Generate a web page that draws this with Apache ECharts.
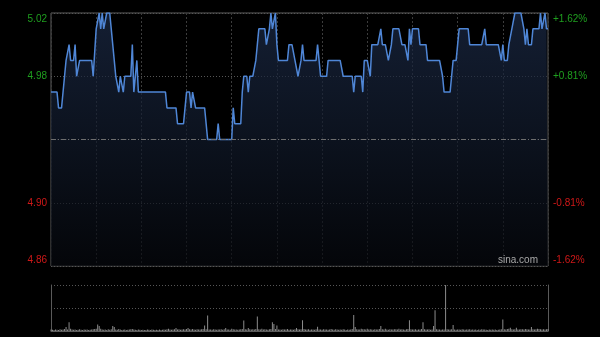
<!DOCTYPE html>
<html><head><meta charset="utf-8">
<script src="https://cdn.jsdelivr.net/npm/echarts@6/dist/echarts.min.js"></script>
<style>html,body{margin:0;padding:0;background:#000;}#c{width:600px;height:337px;}</style>
</head><body><div id="c"></div>
<script>
// previous close (base) price
const basePrice = 4.94;
// left tick labels (price) and right tick labels (percent)
const priceTicks = [4.86, 4.90, 4.94, 4.98, 5.02];
const pctTicks = ['-1.62%', '-0.81%', '', '+0.81%', '+1.62%'];

// one price per trading minute (330 minutes + open)
const price = [
4.97,4.97,4.97,4.97,4.97,4.96,4.96,4.96,4.96,4.98,
4.99,4.99,5.00,4.99,4.99,4.99,5.00,4.98,4.98,4.99,
4.99,4.99,4.99,4.99,4.99,4.99,4.99,4.99,4.98,4.98,
5.01,5.01,5.02,5.01,5.02,5.01,5.01,5.02,5.02,5.02,
5.01,5.00,4.99,4.98,4.98,4.97,4.98,4.98,4.97,4.98,
4.98,4.98,4.98,4.98,5.00,4.97,4.97,4.99,4.97,4.97,
4.97,4.97,4.97,4.97,4.97,4.97,4.97,4.97,4.97,4.97,
4.97,4.97,4.97,4.97,4.97,4.97,4.97,4.96,4.96,4.96,
4.96,4.96,4.96,4.96,4.95,4.95,4.95,4.95,4.95,4.96,
4.97,4.97,4.97,4.96,4.97,4.97,4.96,4.96,4.96,4.96,
4.96,4.96,4.96,4.95,4.94,4.94,4.94,4.94,4.94,4.94,
4.94,4.95,4.94,4.94,4.94,4.94,4.94,4.94,4.94,4.94,
4.94,4.96,4.95,4.95,4.95,4.95,4.95,4.97,4.98,4.98,
4.98,4.97,4.98,4.98,4.98,4.98,4.99,5.00,5.01,5.01,
5.01,5.01,5.01,5.00,5.00,5.01,5.02,5.01,5.01,5.02,
5.00,4.99,4.99,4.99,4.99,4.99,4.99,4.99,5.00,5.00,
5.00,5.00,4.99,4.99,4.98,4.98,4.99,5.00,4.99,4.99,
4.99,4.99,4.99,4.99,4.99,4.99,4.99,5.00,4.99,4.98,
4.98,4.98,4.98,4.98,4.99,4.99,4.99,4.99,4.99,4.99,
4.99,4.99,4.99,4.99,4.98,4.98,4.98,4.98,4.98,4.98,
4.98,4.97,4.98,4.98,4.98,4.98,4.98,4.97,4.99,4.99,
4.99,4.99,4.98,5.00,5.00,5.00,5.00,5.00,5.00,5.01,
5.00,5.00,5.00,5.00,4.99,4.99,5.00,5.01,5.01,5.01,
5.01,5.01,5.01,5.00,5.00,5.00,5.00,4.99,5.01,5.00,
5.01,5.01,5.01,5.01,5.01,5.00,5.00,5.00,5.00,5.00,
4.99,4.99,4.99,4.99,4.99,4.99,4.99,4.99,4.99,4.99,
4.98,4.97,4.97,4.97,4.97,4.97,4.98,4.99,4.99,4.99,
5.00,5.01,5.01,5.01,5.01,5.01,5.01,5.01,5.00,5.00,
5.00,5.00,5.00,5.00,5.00,5.00,5.00,5.00,5.01,5.00,
5.00,5.00,5.00,5.00,5.00,5.00,5.00,5.00,5.00,4.99,
5.00,4.99,4.99,4.99,5.00,5.00,5.01,5.01,5.02,5.02,
5.02,5.02,5.02,5.02,5.01,5.00,5.01,5.00,5.00,5.00,
5.01,5.01,5.01,5.01,5.01,5.02,5.01,5.01,5.02,5.01,
5.01
];

// volume per minute (relative units)
const volume = [
16,12,10,14,12,10,18,12,14,20,
40,15,90,22,14,12,16,10,12,18,
12,10,14,12,16,10,12,14,18,20,
22,67,50,24,16,12,14,10,18,12,
18,50,40,16,12,20,14,10,12,16,
10,12,14,18,20,16,12,10,14,12,
10,12,9,10,14,12,10,16,12,10,
12,10,14,10,12,16,12,18,22,14,
12,16,18,30,14,18,12,16,18,14,
20,30,18,16,20,14,12,18,14,16,
18,20,57,18,157,16,14,12,18,14,
12,16,14,18,12,18,30,14,16,12,
22,18,14,16,12,14,18,20,107,18,
16,30,18,14,18,16,20,147,18,16,
22,14,18,16,12,18,20,90,70,20,
57,16,14,12,18,14,16,20,12,14,
16,12,18,30,18,14,18,110,20,16,
14,18,12,16,14,12,18,43,16,14,
12,18,16,14,12,16,20,14,12,18,
14,12,16,12,18,14,10,16,12,14,
20,163,40,18,16,14,22,18,18,16,
22,14,18,16,12,18,16,14,20,50,
18,16,23,14,12,18,16,14,18,18,
16,22,14,18,16,12,18,20,110,18,
16,14,18,12,16,14,20,90,18,16,
14,18,12,16,50,210,18,14,16,12,
16,14,467,18,16,14,18,60,16,12,
14,16,12,18,14,12,16,14,18,12,
14,12,16,10,14,12,18,14,16,12,
10,14,12,16,12,14,10,12,16,18,
117,18,16,20,23,33,18,16,18,33,
16,14,18,18,16,20,18,16,14,40,
18,16,18,23,20,18,16,18,14,18,
20
];

const GREEN = '#1f9f1f', RED = '#d01818';
const baseC = Math.round(basePrice * 100);
const toC = p => Math.round(p * 100) - baseC;           // cents from base
const tickC = priceTicks.map(toC);                      // [-8,-4,0,4,8]
const cMin = tickC[0], cMax = tickC[tickC.length - 1], cStep = tickC[1] - tickC[0];
const lastIdx = price.length - 1;
const volMax = Math.max(...volume);

const priceData = price.map((p, i) => [i, toC(p)]);
const volData = volume.map((v, i) => [i, v]);

const chart = echarts.init(document.getElementById('c'), null, {renderer: 'canvas'});
const font = 'Liberation Sans, Arial, sans-serif';

function leftLabel(v) {
  const k = tickC.indexOf(Math.round(v));
  if (k < 0 || tickC[k] === 0) return '';
  const t = priceTicks[k].toFixed(2);
  if (k === tickC.length - 1) return '\n' + t;
  if (k === 0) return t + '\n';
  return t;
}
function rightLabel(v) {
  const k = tickC.indexOf(Math.round(v));
  if (k < 0) return '';
  const t = pctTicks[k];
  if (!t) return '';
  if (k === tickC.length - 1) return '\n' + t;
  if (k === 0) return t + '\n';
  return t;
}

chart.setOption({
  backgroundColor: '#000',
  animation: false,
  title: {
    text: 'sina.com', right: 62, top: 255, padding: 0,
    textStyle: {color: '#a8a8a8', fontSize: 10, fontWeight: 'normal', fontFamily: font}
  },
  grid: [
    {left: 51, top: 13, width: 497, height: 253, show: true, borderColor: '#5f5f5f', borderWidth: 1, backgroundColor: 'transparent'},
    {left: 51, top: 285, width: 497, height: 46}
  ],
  xAxis: [
    {type: 'value', gridIndex: 0, min: 0, max: lastIdx, interval: 30,
     axisLine: {show: false}, axisTick: {show: false}, axisLabel: {show: false},
     splitLine: {show: true, lineStyle: {color: '#3c3c3c', type: [2, 2], width: 1}}},
    {type: 'value', gridIndex: 1, min: 0, max: lastIdx,
     axisLine: {show: true, onZero: false, lineStyle: {color: '#5a5a5a'}}, axisTick: {show: false}, axisLabel: {show: false},
     splitLine: {show: false}}
  ],
  yAxis: [
    {type: 'value', gridIndex: 0, min: cMin, max: cMax, interval: cStep, position: 'left',
     axisLine: {show: false}, axisTick: {show: false},
     splitLine: {show: true, lineStyle: {color: '#565656', type: [1, 2], width: 1}},
     axisLabel: {show: true, fontSize: 10, fontFamily: font, margin: 4, lineHeight: 12,
       formatter: leftLabel,
       color: v => (Number(v) > 0 ? GREEN : RED)}},
    {type: 'value', gridIndex: 0, min: cMin, max: cMax, interval: cStep, position: 'right',
     axisLine: {show: false}, axisTick: {show: false}, splitLine: {show: false},
     axisLabel: {show: true, fontSize: 10, fontFamily: font, margin: 5, lineHeight: 12,
       formatter: rightLabel,
       color: v => (Number(v) > 0 ? GREEN : RED)}},
    {type: 'value', gridIndex: 1, min: 0, max: volMax, interval: volMax / 2, position: 'left',
     axisLine: {show: true, lineStyle: {color: '#5a5a5a'}}, axisTick: {show: false}, axisLabel: {show: false},
     splitLine: {show: true, lineStyle: {color: '#565656', type: [1, 2], width: 1}}},
    {type: 'value', gridIndex: 1, min: 0, max: volMax, position: 'right',
     axisLine: {show: true, lineStyle: {color: '#5a5a5a'}}, axisTick: {show: false}, axisLabel: {show: false},
     splitLine: {show: false}}
  ],
  series: [
    {type: 'line', xAxisIndex: 0, yAxisIndex: 0, data: priceData, showSymbol: false, symbol: 'none',
     lineStyle: {color: '#4f86d6', width: 1.5},
     itemStyle: {color: '#4f86d6'},
     areaStyle: {origin: 'start', color: new echarts.graphic.LinearGradient(0, 0, 0, 1, [
       {offset: 0, color: '#1c2b48'}, {offset: 0.5, color: '#111a2b'}, {offset: 1, color: '#06080d'}])},
     markLine: {silent: true, symbol: 'none', label: {show: false},
       lineStyle: {color: '#6e6e6e', type: [5, 2, 1, 2], width: 1},
       data: [{yAxis: 0}]},
     z: 3},
    {type: 'bar', xAxisIndex: 1, yAxisIndex: 2, data: volData, barWidth: 1,
     itemStyle: {color: '#8c8c8c'}}
  ]
});
</script>
</body></html>
